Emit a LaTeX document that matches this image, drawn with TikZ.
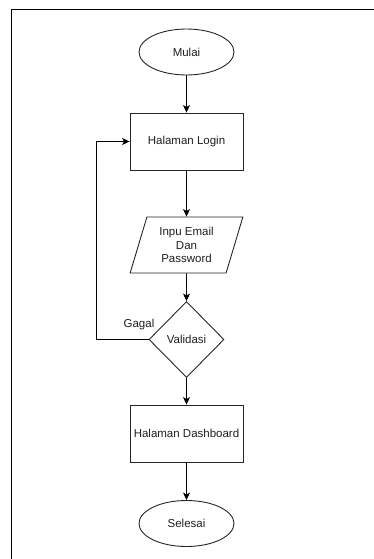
\documentclass[tikz,border=0pt]{standalone}
\usepackage{fontspec}
\setmainfont{Liberation Sans}
\usetikzlibrary{shapes.geometric,arrows.meta}

\begin{document}
\begin{tikzpicture}[x=1pt,y=-1pt,
  every node/.style={font=\fontsize{11.5}{13.5}\selectfont, text=black!88, inner sep=0pt},
  shapeline/.style={draw=black!85, line width=0.9pt},
  terminal/.style={shapeline, ellipse, minimum width=95pt, minimum height=46pt},
  process/.style={shapeline, rectangle, minimum width=113pt, minimum height=57pt},
  iobox/.style={shapeline, trapezium, trapezium left angle=72, trapezium right angle=108,
    trapezium stretches=true, minimum width=113pt, minimum height=56pt, align=center},
  decision/.style={shapeline, diamond, aspect=1, minimum width=75pt, minimum height=76pt},
  flow/.style={draw=black, line width=0.9pt, -{Stealth[length=7.5pt,width=7pt,inset=2pt]}},
  frameline/.style={draw=black, line width=1.4pt}
]
\useasboundingbox (0,0) rectangle (374,559);

% page frame (top and left edges)
\draw[frameline] (374,9.5) -- (11.5,9.5) -- (11.5,559);

% flowchart nodes
\node[terminal] (mulai) at (186.5,52) {Mulai};
\node[process]  (login) at (186.5,141.5) {Halaman Login};
\node[iobox]    (input) at (186.5,245) {Inpu Email\\Dan\\Password};
\node[decision] (valid) at (186.5,339.5) {Validasi};
\node[process]  (dash)  at (186.5,433.5) {Halaman Dashboard};
\node[terminal] (done)  at (186.5,523.5) {Selesai};

% connectors
\draw[flow] (mulai) -- (login);
\draw[flow] (login) -- (input);
\draw[flow] (input.south) -- (valid.north);
\draw[flow] (valid) -- (dash);
\draw[flow] (dash) -- (done);
\coordinate (loopdown) at (96.5,339.5);
\coordinate (loopup) at (96.5,141.5);
\draw[flow] (valid.west) -- (loopdown) -- (loopup) -- (login.west);
\node (gagal) at (139,325) {Gagal};
\end{tikzpicture}
\end{document}
